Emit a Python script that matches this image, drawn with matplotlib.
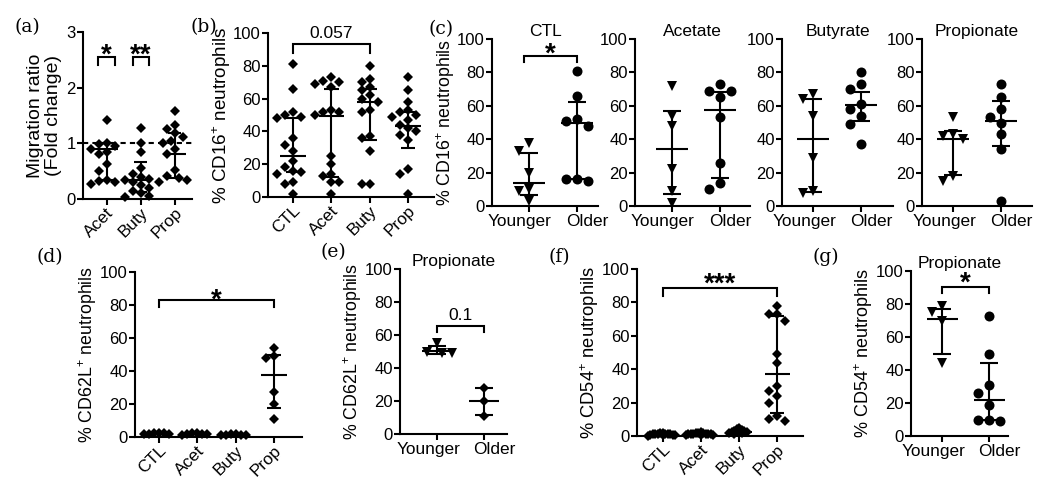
import numpy as np
import matplotlib
matplotlib.use("Agg")
import matplotlib.pyplot as plt
from matplotlib.transforms import ScaledTranslation

plt.rcParams['font.family'] = ['Liberation Sans', 'DejaVu Sans']
plt.rcParams['mathtext.fontset'] = 'custom'
plt.rcParams['mathtext.rm'] = 'Liberation Sans'
plt.rcParams['mathtext.it'] = 'Liberation Sans:italic'
plt.rcParams['mathtext.bf'] = 'Liberation Sans:bold'

# ---- data ----
scfa_short = ["Acet", "Buty", "Prop"]
groups4 = ["CTL", "Acet", "Buty", "Prop"]
age_groups = ["Younger", "Older"]
scfa_titles = ["CTL", "Acetate", "Butyrate", "Propionate"]

# (a) migration ratio, fold change
mig_acet = [1.42, 1.0, 0.98, 0.95, 0.9, 0.85, 0.8, 0.62, 0.5, 0.35, 0.33, 0.3, 0.27]
mig_buty = [1.28, 1.0, 0.85, 0.55, 0.45, 0.4, 0.36, 0.35, 0.3, 0.25, 0.2, 0.15, 0.1, 0.05, 0.03]
mig_prop = [1.58, 1.33, 1.25, 1.18, 1.12, 1.05, 1.0, 0.9, 0.8, 0.52, 0.42, 0.38, 0.35, 0.3]
mig_median = [0.9, 0.35, 0.8]
mig_q1 = [0.35, 0.13, 0.38]
mig_q3 = [1.0, 0.66, 1.18]

# (b) % CD16+ neutrophils
cd16_ctl = [81, 66, 52, 50, 49, 48, 36, 32, 28, 22, 18, 16, 15, 14, 9, 8, 2]
cd16_acet = [73, 71, 70, 69, 67, 53, 52, 52, 50, 25, 20, 14, 13, 9, 9, 2]
cd16_buty = [80, 72, 70, 67, 65, 62, 60, 58, 53, 52, 37, 36, 28, 8, 8]
cd16_prop = [73, 65, 58, 53, 52, 50, 49, 47, 44, 42, 40, 38, 35, 17, 14, 2]
cd16_median = [25, 49.5, 58, 43]
cd16_q1 = [15, 12, 35, 30]
cd16_q3 = [48, 66, 66, 52]

# (c) % CD16+ neutrophils by age
cd16_ctl_younger = [38, 33, 20, 10, 9, 3]
cd16_ctl_older = [81, 66, 52, 51, 48, 16, 16, 15]
cd16_acet_younger = [72, 54, 48, 22, 9, 2]
cd16_acet_older = [73, 69, 69, 65, 53, 26, 14, 10]
cd16_buty_younger = [67, 64, 54, 29, 9, 8]
cd16_buty_older = [80, 73, 70, 61, 58, 54, 49, 37]
cd16_prop_younger = [53, 43, 42, 40, 18, 15]
cd16_prop_older = [73, 65, 58, 53, 50, 43, 34, 3]
age_median = [[14, 50], [34, 57.5], [40, 60.5], [40, 50.6]]
age_q1 = [[6.6, 16], [7, 16.5], [8.6, 50.6], [18.6, 36]]
age_q3 = [[32, 62], [57, 68], [64, 68], [45, 63]]

# (d) % CD62L+ neutrophils
cd62l_ctl = [2.2, 1.8, 2.5, 2.0, 1.6, 2.3]
cd62l_acet = [2.0, 1.7, 2.4, 1.9, 1.5, 2.2]
cd62l_buty = [1.5, 1.2, 1.8, 1.4, 1.0, 1.6]
cd62l_prop = [54, 49, 48, 27, 20, 11]
cd62l_median = [2, 2, 1.5, 37.5]
cd62l_q1 = [1.8, 1.7, 1.2, 17.5]
cd62l_q3 = [2.3, 2.2, 1.7, 50]

# (e) % CD62L+ neutrophils, propionate, by age
cd62l_prop_younger = [55, 50, 49, 49]
cd62l_prop_older = [28, 20, 11]
cd62l_age_median = [50.5, 20]
cd62l_age_q1 = [48.5, 11.5]
cd62l_age_q3 = [53.5, 28]

# (f) % CD54+ neutrophils
cd54_ctl = [2.0, 1.6, 1.4, 1.2, 1.1, 1.0, 1.0, 0.9, 0.8, 0.6, 0.5, 0.3, 0.2]
cd54_acet = [2.2, 1.9, 1.7, 1.5, 1.4, 1.3, 1.2, 1.1, 1.0, 0.9, 0.8, 0.6, 0.5]
cd54_buty = [4.5, 4.0, 3.5, 3.2, 3.0, 2.8, 2.6, 2.4, 2.2, 2.0, 1.8, 1.5, 1.2]
cd54_prop = [78, 73, 73, 69, 49, 44, 30, 27, 24, 20, 12, 10, 9]
cd54_median = [1.0, 1.2, 2.5, 37]
cd54_q1 = [0.6, 0.8, 1.8, 14]
cd54_q3 = [1.4, 1.5, 3.2, 72]

# (g) % CD54+ neutrophils, propionate, by age
cd54_prop_younger = [79, 75, 70, 44]
cd54_prop_older = [73, 50, 31, 26, 19, 10, 10, 9]
cd54_age_median = [71, 22]
cd54_age_q1 = [50, 10]
cd54_age_q3 = [77, 44]

# ---- figure ----
W, H = 1049, 478
fig = plt.figure(figsize=(W / 100, H / 100), dpi=100)

TICK_FS = 12
LW = 1.5


def make_axes(x0, x1, ytop, ybot, xlim, ylim, yticks):
    ax = fig.add_axes([x0 / W, 1 - ybot / H, (x1 - x0) / W, (ybot - ytop) / H])
    ax.set_xlim(xlim)
    ax.set_ylim(ylim)
    ax.set_yticks(yticks)
    for s in ("top", "right"):
        ax.spines[s].set_visible(False)
    for s in ("left", "bottom"):
        ax.spines[s].set_linewidth(LW)
    ax.tick_params(direction="out", length=4.5, width=LW, labelsize=TICK_FS)
    ax.tick_params(axis="y", pad=0.8)
    ax.tick_params(axis="x", pad=1.5)
    ppu_x = (x1 - x0) / (xlim[1] - xlim[0])
    ppu_y = (ybot - ytop) / (ylim[1] - ylim[0])
    return ax, ppu_x, ppu_y


def swarm(vals, ppu_x, ppu_y, gap):
    vals = np.asarray(vals, float)
    order = np.argsort(-vals, kind="stable")
    steps = [0.0]
    for j in range(1, 30):
        steps += [-j * gap / 2, j * gap / 2]
    placed = []
    offs = np.zeros(len(vals))
    for i in order:
        py = vals[i] * ppu_y
        for c in steps:
            if all((c - qx) ** 2 + (py - qy) ** 2 >= gap ** 2 - 1e-9 for qx, qy in placed):
                break
        placed.append((c, py))
        offs[i] = c / ppu_x
    return offs


def draw_group(ax, ppu, pos, vals, med, q1, q3, marker, ms, gap=9):
    offs = swarm(vals, ppu[0], ppu[1], gap)
    ax.plot(pos + offs, vals, ls="none", marker=marker, ms=ms, color="black",
            mew=0, clip_on=False, zorder=3)
    kw = dict(color="black", lw=LW, clip_on=False, zorder=4, solid_capstyle="butt")
    ax.plot([pos - 0.33, pos + 0.33], [med, med], **kw)
    ax.plot([pos - 0.19, pos + 0.19], [q1, q1], **kw)
    ax.plot([pos - 0.19, pos + 0.19], [q3, q3], **kw)
    ax.plot([pos, pos], [q1, q3], **kw)


def bracket(ax, xa, xb, ytop, yleg, text, ty, fs=20, star=True):
    ax.plot([xa, xa, xb, xb], [yleg, ytop, ytop, yleg], color="black", lw=LW,
            clip_on=False, solid_joinstyle="miter")
    if star:
        ax.annotate(text, xy=((xa + xb) / 2, ty), xytext=(0, -0.57 * fs),
                    textcoords="offset points", ha="center", va="baseline",
                    fontsize=fs, fontweight="bold", annotation_clip=False)
    else:
        ax.text((xa + xb) / 2, ty, text, ha="center", va="bottom", fontsize=TICK_FS + 0.5)


def shift_labels(ax, dxs, dy=0):
    for lbl, dx in zip(ax.get_xticklabels(), dxs):
        lbl.set_transform(lbl.get_transform() + ScaledTranslation(dx / 100, dy / 100, fig.dpi_scale_trans))


def set_xcats(ax, labels, rotate):
    ax.set_xticks(range(len(labels)))
    if rotate:
        ax.set_xticklabels(labels, rotation=45, ha="right", va="center",
                           rotation_mode="anchor", fontsize=TICK_FS + 0.3)
        ax.tick_params(axis="x", pad=3)
        shift_labels(ax, [5] * len(labels), -1)
    else:
        ax.set_xticklabels(labels, fontsize=TICK_FS + 0.4)
        # spread the two labels apart like the original layout
        shift_labels(ax, (-9, 10))


def panel_label(x, y, s):
    fig.text(x / W, 1 - y / H, s, family="DejaVu Serif", fontsize=13.5, va="top", ha="left")


D_MS = 5.2
O_MS = 7.2
V_MS = 7.2

# (a)
ax, px, py = make_axes(83, 192, 32, 199, (-0.69, 2.5), (0, 3), [0, 1, 2, 3])
ax.axhline(1, color="black", lw=LW, ls=(0, (2.5, 2)), zorder=1)
for i, v in enumerate([mig_acet, mig_buty, mig_prop]):
    draw_group(ax, (px, py), i, v, mig_median[i], mig_q1[i], mig_q3[i], "D", D_MS, gap=8)
set_xcats(ax, scfa_short, True)
ax.set_ylabel("Migration ratio\n(Fold change)", fontsize=14, labelpad=3, linespacing=1.05)
bracket(ax, -0.24, 0.24, 2.55, 2.4, "*", 2.73)
bracket(ax, 0.76, 1.24, 2.55, 2.4, "**", 2.73)
panel_label(14, 18, "(a)")

# (b)
ax, px, py = make_axes(268, 434, 33, 197, (-0.65, 3.68), (0, 100), range(0, 101, 20))
for i, v in enumerate([cd16_ctl, cd16_acet, cd16_buty, cd16_prop]):
    draw_group(ax, (px, py), i, v, cd16_median[i], cd16_q1[i], cd16_q3[i], "D", D_MS, gap=8)
set_xcats(ax, groups4, True)
ax.set_ylabel(r"% CD16$^{+}$ neutrophils", fontsize=13.6, labelpad=0)
bracket(ax, 0, 2, 93, 88, "0.057", 95, star=False)
panel_label(191, 18, "(b)")

# (c)
c_rects = [(492, 598, (-0.77, 1.44)), (635, 750, (-0.77, 1.63)),
           (782, 893, (-0.65, 1.67)), (922, 1032, (-0.65, 1.65))]
c_young = [cd16_ctl_younger, cd16_acet_younger, cd16_buty_younger, cd16_prop_younger]
c_old = [cd16_ctl_older, cd16_acet_older, cd16_buty_older, cd16_prop_older]
for k in range(4):
    x0, x1, xl = c_rects[k]
    ax, px, py = make_axes(x0, x1, 39, 206, xl, (0, 100), range(0, 101, 20))
    draw_group(ax, (px, py), 0, c_young[k], age_median[k][0], age_q1[k][0], age_q3[k][0],
               "v", V_MS, gap=10)
    draw_group(ax, (px, py), 1, c_old[k], age_median[k][1], age_q1[k][1], age_q3[k][1],
               "o", O_MS, gap=11)
    set_xcats(ax, age_groups, False)
    ax.set_title(scfa_titles[k], fontsize=12.5, pad=2.5)
    if k == 0:
        ax.set_ylabel(r"% CD16$^{+}$ neutrophils", fontsize=12.8, labelpad=0)
        bracket(ax, -0.1, 1, 90, 86, "*", 96)
panel_label(429, 20, "(c)")

# (d)
ax, px, py = make_axes(135, 302, 272, 437, (-0.63, 3.73), (0, 100), range(0, 101, 20))
for i, v in enumerate([cd62l_ctl, cd62l_acet, cd62l_buty, cd62l_prop]):
    draw_group(ax, (px, py), i, v, cd62l_median[i], cd62l_q1[i], cd62l_q3[i], "D", D_MS,
               gap=5 if i < 3 else 8)
set_xcats(ax, groups4, True)
ax.set_ylabel(r"% CD62L$^{+}$ neutrophils", fontsize=12.8, labelpad=0.5)
bracket(ax, 0, 3, 83, 78.5, "*", 88)
panel_label(36, 248, "(d)")

# (e)
ax, px, py = make_axes(400, 507, 269, 434, (-0.79, 1.49), (0, 100), range(0, 101, 20))
draw_group(ax, (px, py), 0, cd62l_prop_younger, cd62l_age_median[0], cd62l_age_q1[0],
           cd62l_age_q3[0], "v", V_MS, gap=10)
draw_group(ax, (px, py), 1, cd62l_prop_older, cd62l_age_median[1], cd62l_age_q1[1],
           cd62l_age_q3[1], "D", D_MS, gap=9)
set_xcats(ax, age_groups, False)
ax.set_title("Propionate", fontsize=12.5, pad=2.5)
ax.set_ylabel(r"% CD62L$^{+}$ neutrophils", fontsize=12.8, labelpad=0.5)
bracket(ax, 0, 1, 65.7, 61.6, "0.1", 67, star=False)
panel_label(320, 243, "(e)")

# (f)
ax, px, py = make_axes(637, 803, 269, 436, (-0.68, 3.68), (0, 100), range(0, 101, 20))
for i, v in enumerate([cd54_ctl, cd54_acet, cd54_buty, cd54_prop]):
    draw_group(ax, (px, py), i, v, cd54_median[i], cd54_q1[i], cd54_q3[i], "D", D_MS,
               gap=2.5 if i < 3 else 8)
set_xcats(ax, groups4, True)
ax.set_ylabel(r"% CD54$^{+}$ neutrophils", fontsize=13.2, labelpad=0.5)
bracket(ax, 0, 3, 88.8, 84, "***", 96)
panel_label(549, 248, "(f)")

# (g)
ax, px, py = make_axes(911, 1008, 271, 436, (-0.66, 1.4), (0, 100), range(0, 101, 20))
draw_group(ax, (px, py), 0, cd54_prop_younger, cd54_age_median[0], cd54_age_q1[0],
           cd54_age_q3[0], "v", V_MS, gap=10)
draw_group(ax, (px, py), 1, cd54_prop_older, cd54_age_median[1], cd54_age_q1[1],
           cd54_age_q3[1], "o", O_MS, gap=11)
set_xcats(ax, age_groups, False)
ax.set_title("Propionate", fontsize=12.5, pad=2.5)
ax.set_ylabel(r"% CD54$^{+}$ neutrophils", fontsize=13, labelpad=0.5)
bracket(ax, 0, 1, 90.5, 86.4, "*", 97.5)
panel_label(812, 248, "(g)")

fig.savefig("out.png", dpi=100)
